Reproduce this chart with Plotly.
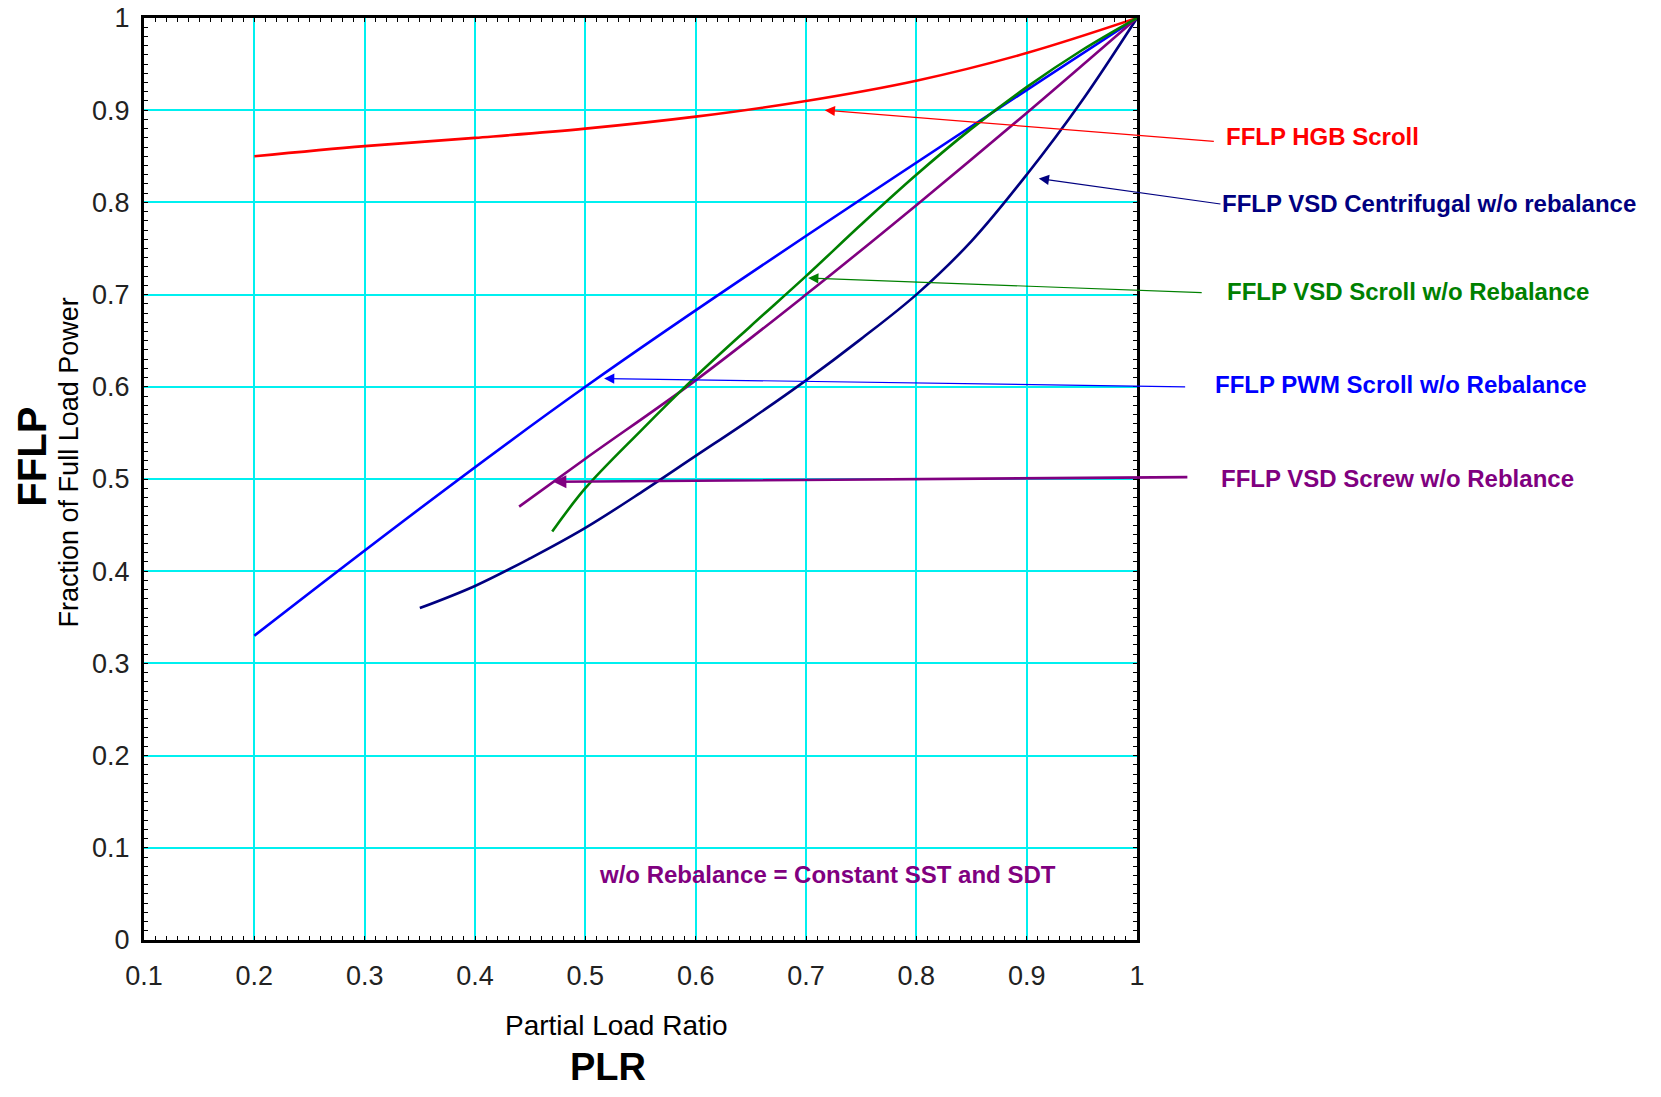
import plotly.graph_objects as go

# ---- data ----
plr_hgb = [0.2, 0.3, 0.4, 0.5, 0.6, 0.7, 0.8, 0.9, 1.0]
fflp_hgb = [0.85, 0.861, 0.87, 0.88, 0.893, 0.91, 0.932, 0.962, 1.0]

plr_pwm = [0.2, 0.5, 1.0]
fflp_pwm = [0.33, 0.60, 1.0]

plr_vsd_scroll = [0.47, 0.5, 0.55, 0.6, 0.65, 0.7, 0.75, 0.8, 0.85, 0.9, 0.95, 1.0]
fflp_vsd_scroll = [0.443, 0.49, 0.552, 0.611, 0.666, 0.72, 0.776, 0.83, 0.88, 0.925, 0.965, 1.0]

plr_vsd_screw = [0.44, 0.5, 0.6, 0.7, 0.8, 0.9, 1.0]
fflp_vsd_screw = [0.47, 0.522, 0.607, 0.70, 0.797, 0.897, 1.0]

plr_centrif = [0.35, 0.4, 0.45, 0.5, 0.55, 0.6, 0.65, 0.7, 0.75, 0.8, 0.85, 0.9, 0.95, 1.0]
fflp_centrif = [0.36, 0.384, 0.414, 0.447, 0.485, 0.525, 0.565, 0.607, 0.652, 0.70, 0.758, 0.83, 0.91, 1.0]

x_ticks = [0.1, 0.2, 0.3, 0.4, 0.5, 0.6, 0.7, 0.8, 0.9, 1.0]
x_tick_labels = ["0.1", "0.2", "0.3", "0.4", "0.5", "0.6", "0.7", "0.8", "0.9", "1"]
y_ticks = [0, 0.1, 0.2, 0.3, 0.4, 0.5, 0.6, 0.7, 0.8, 0.9, 1.0]
y_tick_labels = ["0", "0.1", "0.2", "0.3", "0.4", "0.5", "0.6", "0.7", "0.8", "0.9", "1"]

# label: (text, colour, tip x, tip y, tail x, tail y, text x, text y, arrow width)
callouts = [
    ("FFLP HGB Scroll", "#FF0000", 0.717, 0.900, 1.071, 0.866, 1.079, 0.872, 1.2),
    ("FFLP VSD Centrifugal w/o rebalance", "#000080", 0.911, 0.826, 1.077, 0.798, 1.075, 0.799, 1.2),
    ("FFLP VSD Scroll w/o Rebalance", "#008000", 0.702, 0.718, 1.060, 0.702, 1.080, 0.703, 1.2),
    ("FFLP PWM Scroll w/o Rebalance", "#0000FF", 0.517, 0.609, 1.045, 0.600, 1.069, 0.603, 1.2),
    ("FFLP VSD Screw w/o Reblance", "#800080", 0.471, 0.497, 1.047, 0.502, 1.074, 0.501, 2.6),
]
note_text = "w/o Rebalance = Constant SST and SDT"

X0, X1 = 0.1, 1.0

fig = go.Figure()
series = [
    (plr_hgb, fflp_hgb, "#FF0000"),
    (plr_pwm, fflp_pwm, "#0000FF"),
    (plr_centrif, fflp_centrif, "#000080"),
    (plr_vsd_screw, fflp_vsd_screw, "#800080"),
    (plr_vsd_scroll, fflp_vsd_scroll, "#008000"),
]
for xs, ys, col in series:
    fig.add_trace(go.Scatter(x=xs, y=ys, mode="lines", line=dict(color=col, width=2.6, shape="spline"),
                             showlegend=False))

ann = []
for text, col, tx, ty, ax, ay, lx, ly, w in callouts:
    ann.append(dict(x=tx, y=ty, ax=ax, ay=ay, xref="x", yref="y", axref="x", ayref="y",
                    text="", showarrow=True, arrowhead=2, arrowsize=1.7 if w < 2 else 1.0,
                    arrowwidth=w, arrowcolor=col, standoff=0, startstandoff=0))
    ann.append(dict(x=(lx - X0) / (X1 - X0), y=ly, xref="paper", yref="paper", text=text, showarrow=False,
                    xanchor="left", yanchor="middle",
                    font=dict(family="Liberation Sans, Arial", size=24, color=col, weight="bold")))
ann.append(dict(x=0.511, y=0.071, xref="x", yref="y", text=note_text, showarrow=False,
                xanchor="left", yanchor="middle",
                font=dict(family="Liberation Sans, Arial", size=24, color="#800080", weight="bold")))
# axis titles
ann.append(dict(x=-0.0755, y=0.518, xref="paper", yref="paper", text="Fraction of Full Load Power",
                showarrow=False, textangle=-90, xanchor="center", yanchor="middle",
                font=dict(family="Liberation Sans, Arial", size=27, color="black")))
ann.append(dict(x=-0.113, y=0.524, xref="paper", yref="paper", text="<b>FFLP</b>",
                showarrow=False, textangle=-90, xanchor="center", yanchor="middle",
                font=dict(family="Liberation Sans, Arial", size=40, color="black")))
ann.append(dict(x=0.476, y=-0.093, xref="paper", yref="paper", text="Partial Load Ratio",
                showarrow=False, xanchor="center", yanchor="middle",
                font=dict(family="Liberation Sans Narrow, Liberation Sans, Arial", size=28, color="black")))
ann.append(dict(x=0.467, y=-0.1377, xref="paper", yref="paper", text="<b>PLR</b>",
                showarrow=False, xanchor="center", yanchor="middle",
                font=dict(family="Liberation Sans, Arial", size=38, color="black")))

axis_common = dict(
    showline=True, linecolor="black", linewidth=3, mirror="allticks",
    ticks="inside", ticklen=4, tickwidth=1.2, tickcolor="black",
    showgrid=True, gridcolor="#00F0F0", gridwidth=2, zeroline=False, automargin=False,
    ticklabeloverflow="allow",
    tickfont=dict(family="Liberation Sans Narrow, Liberation Sans, Arial", size=27, color="#222222"),
    minor=dict(dtick=0.01, ticks="inside", ticklen=4, tickcolor="black", showgrid=False),
)

fig.update_layout(
    width=1645, height=1081,
    margin=dict(l=136, r=516, t=10, b=149),
    paper_bgcolor="white", plot_bgcolor="white",
    xaxis=dict(range=[X0, X1], tickvals=x_ticks, ticktext=x_tick_labels, ticklabelstandoff=10, **axis_common),
    yaxis=dict(range=[0, 1.0], tickvals=y_ticks, ticktext=y_tick_labels, ticklabelstandoff=6, **axis_common),
    annotations=ann,
)

fig.write_html("out.html")
